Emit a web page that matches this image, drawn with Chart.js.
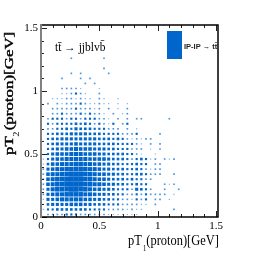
<!DOCTYPE html>
<html>
<head>
<meta charset="utf-8">
<style>
  html, body { margin: 0; padding: 0; background: #fff; }
  canvas { display: block; }
</style>
<script src="https://cdn.jsdelivr.net/npm/chart.js@4/dist/chart.umd.min.js"></script>
</head>
<body>
<canvas id="chart" width="273" height="256"></canvas>
<script>
// Bin size on both axes (GeV)
const binWidth = 0.04;

// Box level per bin, one string per pT2 row (row 0 is the bottom), one digit per pT1 column
const boxRows = [
  "0222233322222211111" + "11",
  "1334444444333322221" + "2110000002",
  "1455556665544433322" + "2211020",
  "1556777776655443322" + "1323022010",
  "2567788887765544332" + "2323222201",
  "2578889988766554333" + "2543200200200",
  "2678899998877655443" + "3433000212",
  "2678899998876654443" + "4332200",
  "2677889998876655443" + "3443222002",
  "2567788888776554443" + "3432122",
  "1466777887766554433" + "3433022",
  "1356677777666654443" + "2343120212",
  "0356667776665544443" + "321001",
  "0345566766655544333" + "2220102",
  "0345555655554444333" + "3210202",
  "0344555555554443432" + "12122",
  "0334445555444333322" + "23000020",
  "0223343544433322202" + "01",
  "0323333434323213023",
  "0233323323332210202" + "022000002",
  "0022322232322102012",
  "0022222322212020102",
  "0202122232112110101",
  "0011122121102100100",
  "000011232100200",
  "000022221000100",
  "000000000202",
  "000020002020",
  "000000202000002",
  "00000000000002",
  "",
  "00000020000002"
];

const tickValues = [0, 0.5, 1, 1.5];
const xMax = 1.517;
const yMax = 1.524;

const boxColor = '#0066cc';
// the smallest boxes come out paler in the reference
const paleColors = { 1: '#7fb2e5', 2: '#4d94db' };

const boxPoints = [];
boxRows.forEach((row, j) => {
  row.split('').forEach((level, i) => {
    if (level !== '0') {
      boxPoints.push({ x: (i + 0.5) * binWidth, y: (j + 0.5) * binWidth, level: Number(level) });
    }
  });
});

function tickLabel(value) {
  const v = Math.round(value * 10) / 10;
  return tickValues.includes(v) ? String(v) : '';
}

// Frame, inward ticks and the texts Chart.js has no option for
const decorations = {
  id: 'decorations',
  afterDraw(chart) {
    const { ctx, chartArea: a, scales } = chart;
    ctx.save();

    ctx.strokeStyle = '#222';
    ctx.lineWidth = 1;
    for (let n = 0; n <= 15; n++) {
      const v = n / 10;
      const len = n % 5 === 0 ? 6 : 3;
      const px = Math.round(scales.x.getPixelForValue(v)) + 0.5;
      const py = Math.round(scales.y.getPixelForValue(v)) + 0.5;
      ctx.beginPath();
      ctx.moveTo(px, a.bottom); ctx.lineTo(px, a.bottom - len);
      ctx.moveTo(px, a.top); ctx.lineTo(px, a.top + len);
      ctx.moveTo(a.left, py); ctx.lineTo(a.left + len, py);
      ctx.stroke();
    }

    // top, right and bottom are black, the left one is a thick grey band
    ctx.strokeStyle = '#000';
    ctx.lineWidth = 1.5;
    ctx.beginPath();
    ctx.moveTo(a.left, a.top); ctx.lineTo(a.right, a.top);
    ctx.lineTo(a.right, a.bottom); ctx.lineTo(a.left, a.bottom);
    ctx.stroke();
    ctx.strokeStyle = '#808080';
    ctx.lineWidth = 2;
    ctx.beginPath();
    ctx.moveTo(a.left, a.top - 1); ctx.lineTo(a.left, a.bottom + 1);
    ctx.stroke();

    // legend
    ctx.fillStyle = boxColor;
    ctx.fillRect(167, 31, 15, 28);
    ctx.fillStyle = '#222';
    ctx.font = 'bold 7.5px "Liberation Sans"';
    ctx.textAlign = 'left';
    ctx.textBaseline = 'alphabetic';
    ctx.fillText('IP-IP → tt\u0304', 184, 49);

    // process label
    ctx.fillStyle = '#000';
    ctx.font = '11.5px "Liberation Serif"';
    ctx.fillText('tt\u0304 → jjblvb\u0304', 55, 51);

    // x axis title, squeezed like the reference
    ctx.save();
    ctx.translate(128, 245);
    ctx.scale(0.83, 1);
    ctx.font = '15px "Liberation Serif"';
    ctx.fillText('pT', 0, 0);
    ctx.fillText('(proton)[GeV]', 22, 0);
    ctx.font = '8px "Liberation Serif"';
    ctx.fillText('1', 18, 6);
    ctx.restore();

    // y axis title, stretched along the axis
    ctx.save();
    ctx.translate(13, 155);
    ctx.rotate(-Math.PI / 2);
    ctx.scale(1.3, 1);
    ctx.font = '13px "Liberation Serif"';
    ctx.lineWidth = 0.4;
    ctx.strokeStyle = '#000';
    ctx.fillText('pT', 0, 0);
    ctx.strokeText('pT', 0, 0);
    ctx.fillText('(proton)[GeV]', 19, 0);
    ctx.strokeText('(proton)[GeV]', 19, 0);
    ctx.font = '8px "Liberation Serif"';
    ctx.fillText('2', 14, 6);
    ctx.restore();

    ctx.restore();
  }
};

new Chart(document.getElementById('chart'), {
  type: 'scatter',
  data: {
    datasets: [{
      data: boxPoints,
      backgroundColor: ctx => paleColors[ctx.raw.level] || boxColor,
      borderWidth: 0,
      pointStyle: 'rect',
      // rect style draws a square of half side radius * sqrt(1/2)
      pointRadius: ctx => (0.7 + ctx.raw.level * 0.48) * Math.SQRT1_2
    }]
  },
  options: {
    responsive: false,
    animation: false,
    events: [],
    layout: { padding: { top: 25, right: 55, left: 0, bottom: 0 } },
    plugins: { legend: { display: false }, tooltip: { enabled: false } },
    scales: {
      x: {
        type: 'linear',
        min: 0,
        max: xMax,
        afterFit(scale) { scale.height = 39; },
        grid: { display: false, drawTicks: false },
        border: { display: false },
        ticks: {
          stepSize: 0.1,
          includeBounds: false,
          autoSkip: false,
          maxRotation: 0,
          padding: 3,
          color: '#000',
          font: { family: 'Liberation Serif', size: 11 },
          callback: tickLabel
        }
      },
      y: {
        type: 'linear',
        min: 0,
        max: yMax,
        afterFit(scale) { scale.width = 41; },
        grid: { display: false, drawTicks: false },
        border: { display: false },
        ticks: {
          stepSize: 0.1,
          includeBounds: false,
          autoSkip: false,
          padding: 3,
          color: '#000',
          font: { family: 'Liberation Serif', size: 11 },
          callback: tickLabel
        }
      }
    }
  },
  plugins: [decorations]
});
</script>
</body>
</html>
